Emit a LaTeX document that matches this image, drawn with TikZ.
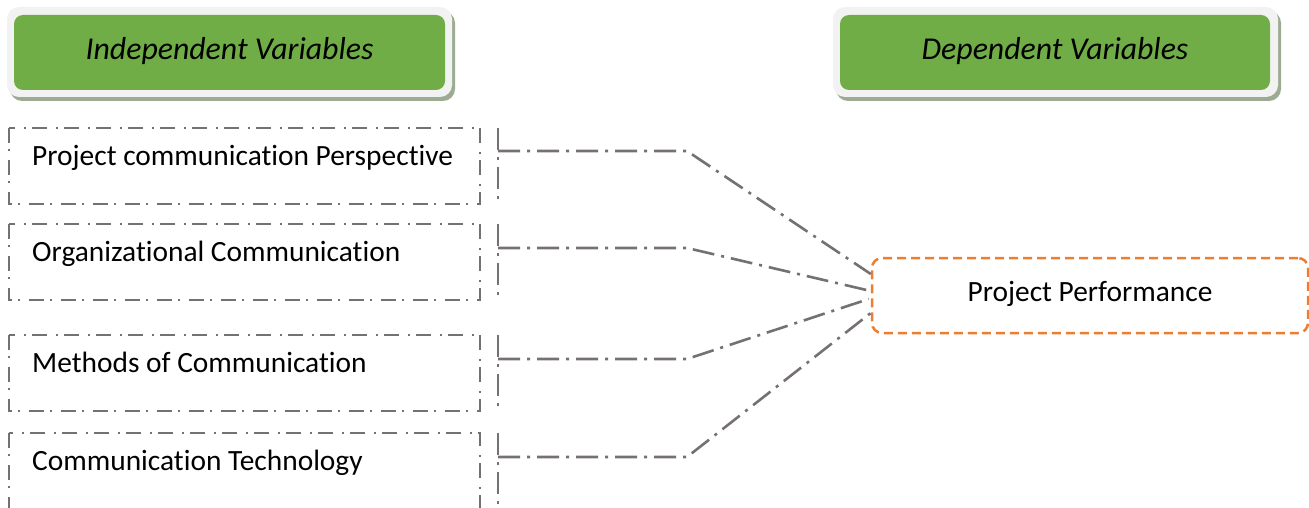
\documentclass[tikz,border=0pt]{standalone}
\usepackage{fontspec}
\setmainfont{Carlito}[Ligatures={NoCommon}]
\usetikzlibrary{calc}
\definecolor{greenfill}{HTML}{70AD47}
\definecolor{framecol}{HTML}{F2F2F2}
\definecolor{shadowcol}{HTML}{9DAB93}
\definecolor{linegray}{HTML}{767171}
\definecolor{orangecol}{HTML}{ED7D31}
\tikzset{
  titleshadow/.style={fill=shadowcol, rounded corners=12pt, draw=none},
  titleframe/.style={fill=framecol, rounded corners=12pt, draw=none},
  titlegreen/.style={fill=greenfill, rounded corners=9pt, draw=none},
  titletext/.style={font=\fontsize{31.8}{38}\selectfont\itshape, text=black, inner sep=0pt, anchor=base},
  varbox/.style={draw=linegray, line width=2.3pt, dash pattern=on 15pt off 6pt on 2pt off 9pt, inner sep=0pt},
  vartext/.style={font=\fontsize{29.4}{35}\selectfont, anchor=base west, inner sep=0pt},
  bracketline/.style={draw=linegray, line width=2.6pt, dash pattern=on 22pt off 7pt on 3pt off 7pt},
  connector/.style={draw=linegray, line width=2.6pt, dash pattern=on 22pt off 7pt on 3pt off 7pt},
  perfbox/.style={draw=orangecol, line width=2.5pt, dash pattern=on 9pt off 5pt, rounded corners=10pt, inner sep=0pt},
}
\begin{document}
\begin{tikzpicture}[x=1pt,y=-1pt]
\useasboundingbox (0,0) rectangle (1309,508);
\clip (0,0) rectangle (1309,508);

% title boxes
\fill[titleshadow] (10,11) rectangle (455,101);
\fill[titleframe] (7,7) rectangle (452,97);
\fill[titlegreen] (14,15) rectangle (445,90);
\node[titletext] (indep) at (229.5,59.5) {Independent Variables};

\fill[titleshadow] (836,11) rectangle (1281,101);
\fill[titleframe] (833,7) rectangle (1278,97);
\fill[titlegreen] (840,15) rectangle (1270,90);
\node[titletext] (dep) at (1055,59.5) {Dependent Variables};

% variable boxes
\draw[varbox] (9,128) rectangle (480,204);
\draw[varbox] (9,224) rectangle (480,300);
\draw[varbox] (9,335) rectangle (480,411);
\draw[varbox] (9,433) rectangle (480,540);
\node[vartext] (v1) at (32,165.5) {Project communication Perspective};
\node[vartext] (v2) at (32,261.5) {Organizational Communication};
\node[vartext] (v3) at (32,372.5) {Methods of Communication};
\node[vartext] (v4) at (32,470.5) {Communication Technology};

% brackets
\draw[bracketline] (498,128) -- (498,203);
\draw[bracketline] (498,224) -- (498,300);
\draw[bracketline] (498,335) -- (498,410);
\draw[bracketline] (498,433) -- (498,540);

\coordinate (s1) at (498,151);
\coordinate (s2) at (498,248);
\coordinate (s3) at (498,359);
\coordinate (s4) at (498,457);
\coordinate (k1) at (687,151);
\coordinate (k2) at (687,248);
\coordinate (k3) at (687,359);
\coordinate (k4) at (687,457);

% dependent box
\node[perfbox, minimum width=436pt, minimum height=75pt] (pp) at (1090,295.5) {};
\node[vartext, anchor=base] (pptext) at (1090,301.5) {Project Performance};

% connectors
\draw[connector] (s1) -- (k1) -- ($(pp.west)+(0,-21.5)$);
\draw[connector] (s2) -- (k2) -- ($(pp.west)+(0,-4.5)$);
\draw[connector] (s3) -- (k3) -- ($(pp.west)+(-2,3.5)$);
\draw[connector] (s4) -- (k4) -- ($(pp.west)+(0,17.5)$);
\end{tikzpicture}
\end{document}
